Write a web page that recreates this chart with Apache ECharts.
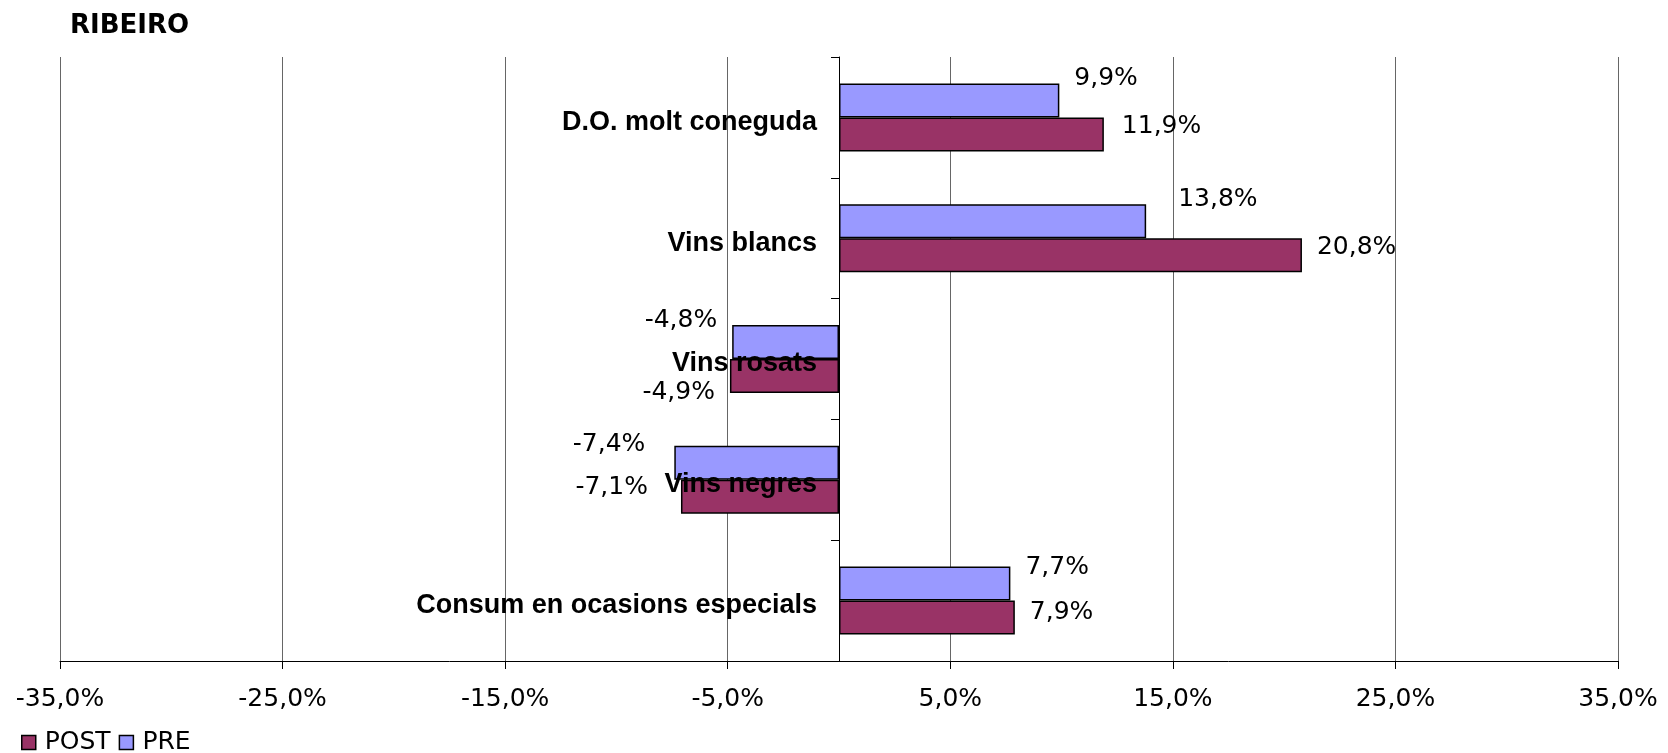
<!DOCTYPE html>
<html>
<head>
<meta charset="utf-8">
<script src="https://cdn.jsdelivr.net/npm/echarts@6/dist/echarts.min.js"></script>
<style>
  html, body { margin: 0; padding: 0; background: #fff; }
  #chart { width: 1668px; height: 753px; }
</style>
</head>
<body>
<div id="chart"></div>
<script>
// categories, top to bottom
const categories = ['D.O. molt coneguda', 'Vins blancs', 'Vins rosats', 'Vins negres', 'Consum en ocasions especials'];
// values in %
const preValues = [9.9, 13.8, -4.8, -7.4, 7.7];
const postValues = [11.9, 20.8, -4.9, -7.1, 7.9];
const axisMin = -35;
const axisMax = 35;
const axisStep = 10;

// hand-placed data label nudges (as in the original sheet)
const preLabelShift = [[0, -22], [17, -22], [0, -22], [14, -18], [0, -16]];
const postLabelShift = [[3, -8], [0, -8], [0, 16], [18, -9], [0, -5]];

const pct = v => v.toFixed(1).replace('.', ',') + '%';

const chart = echarts.init(document.getElementById('chart'));

const gridLeft = 60;
const gridRight = 50;
// category labels sit just left of the zero line
const zeroX = gridLeft + (0 - axisMin) / (axisMax - axisMin) * (1668 - gridLeft - gridRight);

// label goes to the outer end of each bar
function withLabels(values, shifts) {
    return values.map((v, i) => ({
        value: v,
        label: {
            position: v < 0 ? 'left' : 'right',
            offset: [v < 0 ? -shifts[i][0] : shifts[i][0], shifts[i][1]]
        }
    }));
}

const labelFont = { fontFamily: 'DejaVu Sans', fontSize: 25, color: '#000' };

const option = {
    animation: false,
    title: {
        text: 'RIBEIRO',
        left: 65,
        top: 8,
        textStyle: { fontFamily: 'DejaVu Sans', fontWeight: 'bold', fontSize: 26, color: '#000' }
    },
    legend: {
        data: ['POST', 'PRE'],
        left: 21,
        top: 730,
        padding: 0,
        itemWidth: 14,
        itemHeight: 14,
        itemGap: 8,
        icon: 'rect',
        itemStyle: { borderColor: '#000', borderWidth: 1.5 },
        textStyle: { fontFamily: 'DejaVu Sans', fontSize: 25, color: '#000', padding: [0, 0, 0, 4] }
    },
    grid: { left: gridLeft, right: gridRight, top: 57, bottom: 92, outerBoundsMode: 'none', containLabel: false },
    xAxis: {
        type: 'value',
        min: axisMin,
        max: axisMax,
        interval: axisStep,
        axisLine: { show: true, lineStyle: { color: '#000', width: 1 } },
        axisTick: { show: true, length: 8, lineStyle: { color: '#000' } },
        axisLabel: {
            formatter: v => pct(v),
            margin: 26,
            fontFamily: 'DejaVu Sans',
            fontSize: 25,
            color: '#000',
            showMinLabel: true,
            showMaxLabel: true
        },
        splitLine: { show: true, lineStyle: { color: '#666', width: 1 } }
    },
    yAxis: {
        type: 'category',
        data: categories,
        inverse: true,
        z: 10,
        axisLine: { show: true, onZero: true, lineStyle: { color: '#000', width: 1 } },
        axisTick: { show: true, length: 8, lineStyle: { color: '#000' } },
        axisLabel: {
            margin: -(zeroX - gridLeft - 22),
            formatter: v => '{c|' + v + '}',
            rich: {
                c: {
                    fontFamily: 'Liberation Sans',
                    fontWeight: 'bold',
                    fontSize: 27,
                    color: '#000',
                    padding: [10, 0, 0, 0]
                }
            }
        },
        splitLine: { show: false }
    },
    series: [
        {
            name: 'PRE',
            type: 'bar',
            data: withLabels(preValues, preLabelShift),
            barWidth: 34,
            barGap: '0%',
            itemStyle: { color: '#9999FF', borderColor: '#000', borderWidth: 1.5 },
            label: Object.assign({ show: true, distance: 15, formatter: p => pct(p.value) }, labelFont)
        },
        {
            name: 'POST',
            type: 'bar',
            data: withLabels(postValues, postLabelShift),
            barWidth: 34,
            barGap: '0%',
            itemStyle: { color: '#993366', borderColor: '#000', borderWidth: 1.5 },
            label: Object.assign({ show: true, distance: 15, formatter: p => pct(p.value) }, labelFont)
        }
    ]
};

chart.setOption(option);
</script>
</body>
</html>
